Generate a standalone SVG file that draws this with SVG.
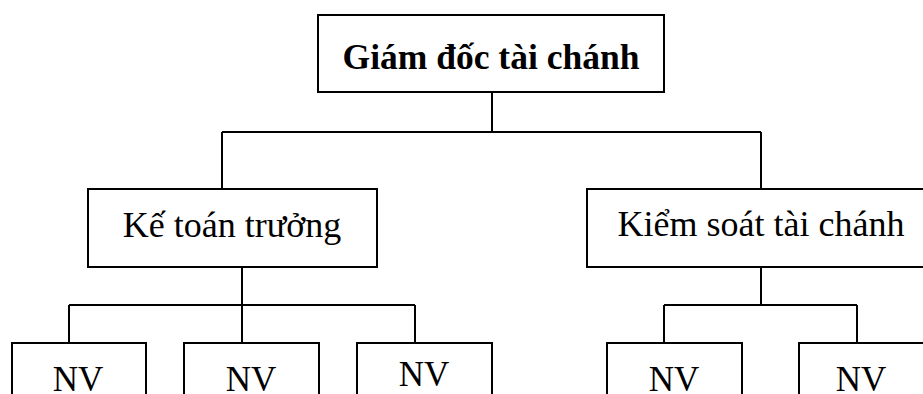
<svg xmlns="http://www.w3.org/2000/svg" width="923" height="394" viewBox="0 0 923 394">
  <style>
    .box { fill: #fff; stroke: #000; stroke-width: 2; }
    .wire { fill: none; stroke: #000; stroke-width: 2; }
    .lbl { font-family: "Liberation Serif", "Times New Roman", serif; font-size: 36px; fill: #000; text-anchor: middle; }
    .head { font-weight: bold; font-size: 35.5px; }
    .nv { font-size: 35px; }
  </style>
  <rect width="923" height="394" fill="#fff"/>

  <!-- connectors -->
  <g id="connectors">
    <path class="wire" d="M492 92 V132"/>
    <path class="wire" d="M222 132 H761" stroke-width="3"/>
    <path class="wire" d="M222 132 V189 M761 132 V189"/>
    <path class="wire" d="M242 267 V305 M69 305 H415 M69 305 V343 M242 305 V343 M415 305 V343"/>
    <path class="wire" d="M761 267 V305 M664 305 H857 M664 305 V343 M857 305 V343"/>
  </g>

  <g id="giam-doc">
    <rect class="box" x="318" y="15" width="346" height="77"/>
    <text class="lbl head" x="491" y="69">Giám đốc tài chánh</text>
  </g>

  <g id="ke-toan-truong">
    <rect class="box" x="88" y="189" width="289" height="78"/>
    <text class="lbl" x="232" y="237">Kế toán trưởng</text>
  </g>

  <g id="kiem-soat">
    <rect class="box" x="587" y="189" width="340" height="78"/>
    <text class="lbl" x="761" y="236">Kiểm soát tài chánh</text>
  </g>

  <g id="nv-1">
    <rect class="box" x="12" y="343" width="134" height="60"/>
    <text class="lbl nv" x="78" y="391">NV</text>
  </g>
  <g id="nv-2">
    <rect class="box" x="184" y="343" width="135" height="60"/>
    <text class="lbl nv" x="251" y="391">NV</text>
  </g>
  <g id="nv-3">
    <rect class="box" x="357" y="343" width="135" height="60"/>
    <text class="lbl nv" x="424" y="386">NV</text>
  </g>
  <g id="nv-4">
    <rect class="box" x="607" y="343" width="135" height="60"/>
    <text class="lbl nv" x="674" y="391">NV</text>
  </g>
  <g id="nv-5">
    <rect class="box" x="799" y="343" width="135" height="60"/>
    <text class="lbl nv" x="861" y="391">NV</text>
  </g>
</svg>
